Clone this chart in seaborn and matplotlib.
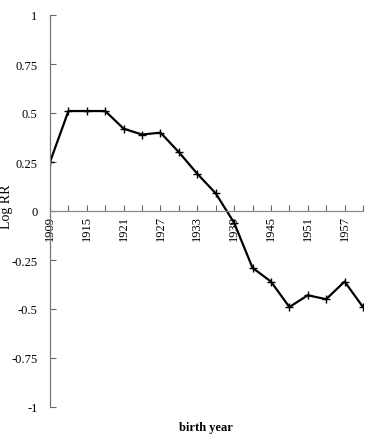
import matplotlib
matplotlib.use("Agg")
import matplotlib.pyplot as plt
import seaborn as sns
import pandas as pd

years = [1909, 1912, 1915, 1918, 1921, 1924, 1927, 1930, 1933, 1936,
         1939, 1942, 1945, 1948, 1951, 1954, 1957, 1960]
log_rr = [0.25, 0.51, 0.51, 0.51, 0.42, 0.39, 0.40, 0.30, 0.19, 0.09,
          -0.06, -0.29, -0.36, -0.49, -0.43, -0.45, -0.36, -0.49]
xtick_labels = ["1909", "1915", "1921", "1927", "1933", "1939", "1945", "1951", "1957"]
ytick_vals = [-1, -0.75, -0.5, -0.25, 0, 0.25, 0.5, 0.75, 1]
ytick_labels = ["-1", "-0.75", "-0.5", "-0.25", "0", "0.25", "0.5", "0.75", "1"]

sns.set_theme(style="white")
plt.rcParams['font.family'] = ['Liberation Serif', 'DejaVu Serif']
plt.rcParams['text.color'] = 'black'
plt.rcParams['xtick.color'] = 'black'
plt.rcParams['ytick.color'] = 'black'

W, H = 371, 435
fig = plt.figure(figsize=(W / 100, H / 100), dpi=100)
ax = fig.add_axes([50 / W, 1 - 408 / H, (363 - 50) / W, (408 - 16) / H])

df = pd.DataFrame({"year": years, "logrr": log_rr})
sns.lineplot(data=df, x="year", y="logrr", ax=ax, color="black", linewidth=1.6,
             marker="+", markersize=6, markeredgewidth=1.0, markeredgecolor="black")

ax.set_xlim(1909, 1960)
ax.set_ylim(-1, 1)

for s in ["top", "right"]:
    ax.spines[s].set_visible(False)
ax.spines["bottom"].set_position(("data", 0))
ax.spines["left"].set_color("#777777")
ax.spines["bottom"].set_color("#888888")
ax.spines["left"].set_linewidth(0.9)
ax.spines["bottom"].set_linewidth(0.9)

ax.set_yticks(ytick_vals)
ax.set_yticklabels(ytick_labels, fontsize=9)
ax.set_xticks([int(t) for t in xtick_labels])
ax.set_xticklabels(xtick_labels, rotation=90, fontsize=9)
ax.set_xticks(years, minor=True)
ax.tick_params(axis="x", which="both", direction="in", length=4, width=0.8,
               color="#666666", labelcolor="black", pad=3, bottom=True)
ax.tick_params(axis="y", which="both", direction="in", length=4, width=0.8,
               color="#666666", labelcolor="black", pad=9, left=True)

ax.set_xlabel("")
ax.set_ylabel("")
fig.text(7 / W, 1 - 207 / H, "Log RR", rotation=90, ha="center", va="center", fontsize=10)
fig.text(206 / W, 1 - 428 / H, "birth year", ha="center", va="center",
         fontsize=9, fontweight="bold")

fig.savefig("out.png", dpi=100)
